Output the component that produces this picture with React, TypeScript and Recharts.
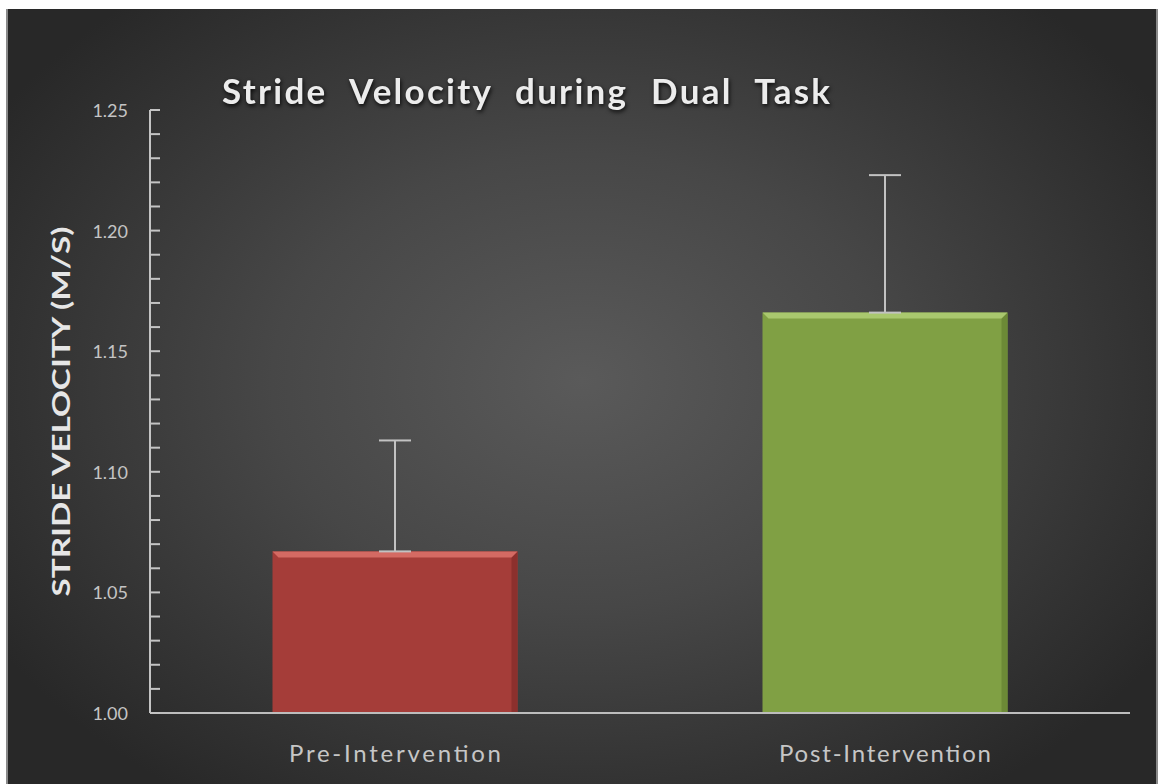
import React from 'react';
import { BarChart, Bar, XAxis, YAxis, ErrorBar, Cell } from 'recharts';

const categories = ['Pre-Intervention', 'Post-Intervention'];
const meanVelocity = [1.067, 1.166];
const sdVelocity = [0.046, 0.057];
const barColors = ['#a53d39', '#80a044'];
const bevelColors = ['#d46a63', '#a9c86e'];
const edgeColors = ['#8c302d', '#6c8a36'];
const majorTicks = [1.0, 1.05, 1.1, 1.15, 1.2, 1.25];
const allTicks = [
  1.0, 1.01, 1.02, 1.03, 1.04, 1.05, 1.06, 1.07, 1.08, 1.09, 1.1, 1.11, 1.12,
  1.13, 1.14, 1.15, 1.16, 1.17, 1.18, 1.19, 1.2, 1.21, 1.22, 1.23, 1.24, 1.25,
];
const titleText = 'Stride Velocity during Dual Task';
const yLabelText = 'STRIDE VELOCITY (M/S)';

const data = categories.map((name, i) => ({
  name,
  value: meanVelocity[i],
  err: [0, sdVelocity[i]],
}));

const FONT = 'Lato, "Open Sans", sans-serif';

const isMajor = (v: number) => majorTicks.some((m) => Math.abs(m - v) < 1e-6);

const YTick = (props: any) => {
  const { x, y, payload } = props;
  const v = payload.value as number;
  return (
    <g>
      <line x1={x} x2={x + 10} y1={y} y2={y} stroke="#c4c4c4" strokeWidth={2} />
      {isMajor(v) && (
        <text
          x={x - 22}
          y={y}
          textAnchor="end"
          dominantBaseline="central"
          fontFamily={FONT}
          fontSize={18}
          fill="#c4c4c4"
        >
          {v.toFixed(2)}
        </text>
      )}
    </g>
  );
};

const XTick = (props: any) => {
  const { x, y, payload } = props;
  return (
    <text
      x={x}
      y={y + 41}
      textAnchor="middle"
      fontFamily={FONT}
      fontSize={24}
      fill="#c6c6c6"
      textLength={212}
      lengthAdjust="spacing"
    >
      {payload.value}
    </text>
  );
};

const BevelBar = (props: any) => {
  const { x, y, width, height, index } = props;
  const b = 6;
  return (
    <g>
      <rect x={x} y={y} width={width} height={height} fill={barColors[index]} />
      <polygon
        points={`${x + width - b},${y + b} ${x + width},${y} ${x + width},${y + height} ${x + width - b},${y + height}`}
        fill={edgeColors[index]}
      />
      <polygon
        points={`${x},${y} ${x + width},${y} ${x + width - b},${y + b} ${x + b},${y + b}`}
        fill={bevelColors[index]}
      />
    </g>
  );
};

const YLabel = (props: any) => {
  const { viewBox } = props;
  const cx = viewBox.x + 20;
  const cy = viewBox.y + viewBox.height / 2;
  return (
    <text
      x={cx}
      y={cy}
      transform={`rotate(-90 ${cx} ${cy})`}
      textAnchor="middle"
      dominantBaseline="central"
      fontFamily={FONT}
      fontWeight={700}
      fontSize={24}
      fill="#e6e6e6"
      textLength={370}
      lengthAdjust="spacingAndGlyphs"
    >
      {yLabelText}
    </text>
  );
};

export default function App() {
  return (
    <div
      style={{
        position: 'absolute',
        left: 0,
        top: 0,
        width: 1159,
        height: 784,
        background: '#ffffff',
        overflow: 'hidden',
      }}
    >
      <div
        style={{
          position: 'absolute',
          left: 6,
          top: 9,
          width: 1148,
          height: 775,
          borderLeft: '2px solid #8a8a8a',
          borderRight: '2px solid #8a8a8a',
          background:
            'radial-gradient(ellipse 60% 65% at 50% 48%, #5a5a5a 0%, #474747 45%, #333333 80%, #282828 100%)',
        }}
      />
      <div style={{ position: 'absolute', left: 0, top: 0 }}>
        <BarChart
          width={1159}
          height={784}
          data={data}
          margin={{ top: 110, right: 29, bottom: 31, left: 40 }}
          barCategoryGap="25%"
        >
          <XAxis
            dataKey="name"
            axisLine={{ stroke: '#bdbdbd', strokeWidth: 2 }}
            tickLine={false}
            tick={<XTick />}
            height={40}
            interval={0}
          />
          <YAxis
            domain={[1, 1.25]}
            ticks={allTicks}
            interval={0}
            width={110}
            tickSize={0}
            tickMargin={0}
            axisLine={{ stroke: '#c4c4c4', strokeWidth: 2 }}
            tickLine={false}
            tick={<YTick />}
            allowDataOverflow
            label={<YLabel />}
          />
          <Bar dataKey="value" isAnimationActive={false} shape={<BevelBar />}>
            {data.map((d, i) => (
              <Cell key={d.name} fill={barColors[i]} />
            ))}
            <ErrorBar
              dataKey="err"
              direction="y"
              width={16}
              stroke="#c2c2c2"
              strokeWidth={2}
              isAnimationActive={false}
            />
          </Bar>
        </BarChart>
      </div>
      <svg
        width={1159}
        height={784}
        style={{ position: 'absolute', left: 0, top: 0, pointerEvents: 'none' }}
      >
        <text
          x={222}
          y={104}
          textAnchor="start"
          fontFamily={FONT}
          fontWeight={700}
          fontSize={35}
          fill="#ececec"
          textLength={608}
          lengthAdjust="spacing"
          style={{ wordSpacing: 12, filter: 'drop-shadow(1px 2px 2px rgba(0,0,0,0.85))' }}
        >
          {titleText}
        </text>
      </svg>
    </div>
  );
}
